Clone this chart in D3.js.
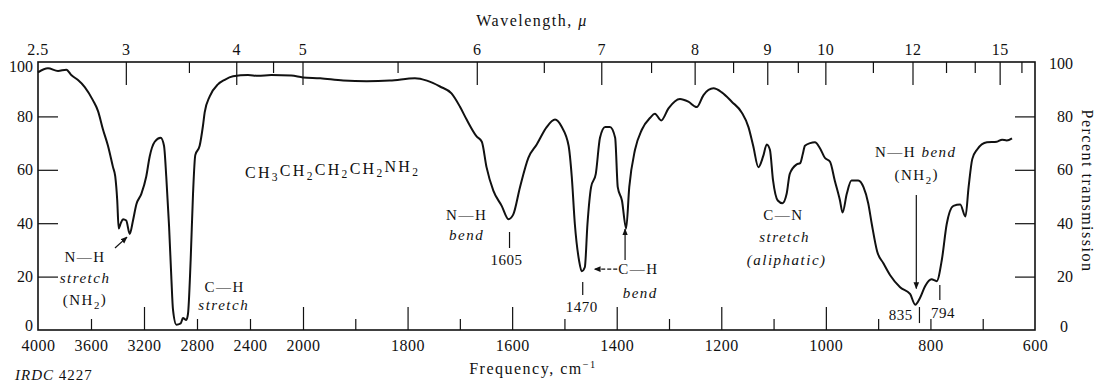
<!DOCTYPE html>
<html><head><meta charset="utf-8">
<script src="https://cdn.jsdelivr.net/npm/d3@7"></script>
<style>
body{margin:0;background:#fff}
svg{display:block}
text{font-family:"Liberation Serif","Times New Roman",serif;fill:#111}
</style>
</head><body><svg id="c" width="1099" height="383"></svg>
<script>
// ---- data ----
const wavenumber = [4000,3925,3849,3786,3749,3698,3647,3585,3547,3509,3472,3434,3417,3402,3391,3375,3358,3334,3308,3283,3258,3220,3183,3157,3119,3074,3049,3032,3011,2994,2981,2956,2923,2906,2881,2868,2848,2830,2813,2780,2755,2742,2704,2642,2591,2528,2415,2340,2239,2088,2000,1967,1923,1878,1834,1786,1763,1738,1716,1700,1687,1668,1658,1649,1636,1620,1607,1598,1585,1569,1553,1534,1518,1505,1492,1486,1480,1472,1467,1461,1456,1449,1440,1432,1422,1413,1403,1398,1390,1382,1376,1365,1352,1336,1327,1315,1301,1279,1263,1247,1234,1215,1199,1180,1161,1148,1139,1129,1120,1113,1107,1101,1092,1083,1075,1069,1056,1049,1044,1040,1030,1021,1011,1002,992,983,973,968,960,951,938,928,919,912,902,890,877,858,839,829,820,810,798,788,778,769,756,743,733,727,720,711,692,673,663,654,644];
const transmission = [96.5,98,97,97.5,95.5,93.6,91,86,82,75,69,61,57.5,48.5,38,40,41.5,41,36,41,47,51,57.5,65,70.5,72,69,57.5,39,20,7.5,2,2.5,4.5,3.7,6,26,51,65.5,69,76.5,81.5,87.5,92,93.7,95,95.5,95.2,95.5,95.3,94.6,94.3,93.4,93.2,93.4,94.3,93.4,91.2,88.6,83.7,78.8,72.5,70.5,61,52.2,46.5,41.5,43.2,53.5,64.5,69.5,76,78.8,76,69,57.5,39.5,26,22,23.5,39.5,53.5,58.5,72,76,76,72,53.5,48.5,38,53.5,67.5,75,79.5,81,78.5,83,86.5,85.5,83.5,88,90.5,89,85.5,81.5,76,69,61,65,69.5,67.5,56,48.5,47.5,51,58.5,62,62.5,66,69,70,70.3,68,64.5,63,56,48.5,44,51,56,56,53.5,47.5,39.5,29.5,25,20.5,16,13.5,9.5,12,16.5,19,18.3,26.5,39.5,46.5,47,42.5,53.5,64,67.5,70.3,70.5,71.3,71,71.8];
const freqLabels = [4000,3600,3200,2800,2400,2000,1800,1600,1400,1200,1000,800,600];
const freqMajorTicks = [3200,2000,1800,1600,1400,1200,1000];
const freqMinorTicks = [3600,2800,2400,1900,1700,1500,1300,1100,900,800,700];
const wlLabels = [2.5,3,4,5,6,7,8,9,10,12,15];
const wlMajorTicks = [3,4,5,6,7,8,9,10,12,15];
const wlMinorTicks = [3.5,4.5,5.5,6.5,7.5,8.5,9.5,11,13,14,16];
const pctTicks = [0,20,40,60,80,100];

// ---- scales ----
const svg = d3.select("#c");
const x = d3.scaleLinear().domain([4000,2000,600]).range([38,303,1035]);
const y = d3.scaleLinear().domain([0,100]).range([330,63]);
const X0 = x(4000), X1 = x(600), Y0 = y(0), Y1 = y(100) - 1;

// arrow marker
const defs = svg.append("defs");
defs.append("marker").attr("id","ah").attr("viewBox","0 0 10 10").attr("refX",9).attr("refY",5)
  .attr("markerWidth",7).attr("markerHeight",7).attr("orient","auto-start-reverse").attr("markerUnits","userSpaceOnUse")
  .append("path").attr("d","M0,1 L10,5 L0,9 Z").attr("fill","#111");

// ---- frame ----
svg.append("rect").attr("x",X0).attr("y",Y1).attr("width",X1-X0).attr("height",Y0-Y1)
  .attr("fill","none").attr("stroke","#111").attr("stroke-width",1.6);

function cleanAxis(g){ g.select(".domain").remove(); g.selectAll("line").attr("stroke","#111").attr("stroke-width",1.2); }

// bottom axis (ticks inside)
const gB = svg.append("g").attr("transform",`translate(0,${Y0})`);
gB.append("g").call(d3.axisBottom(x).tickValues(freqMajorTicks).tickSize(-23).tickFormat("")).call(cleanAxis);
gB.append("g").call(d3.axisBottom(x).tickValues(freqMinorTicks).tickSize(-11).tickFormat("")).call(cleanAxis);
gB.append("g").call(d3.axisBottom(x).tickValues(freqLabels).tickSize(0).tickPadding(10).tickFormat(d3.format("d"))).call(cleanAxis)
  .selectAll("text").style("font-size","16px").style("font-family","Liberation Serif, serif").attr("fill","#111").style("letter-spacing","0.5px");

// top axis (wavelength, via wavenumber scale)
const gT = svg.append("g");
gT.selectAll("line.maj").data(wlMajorTicks).join("line").attr("class","maj")
  .attr("x1",d=>x(1e4/d)).attr("x2",d=>x(1e4/d)).attr("y1",Y1).attr("y2",Y1+23).attr("stroke","#111").attr("stroke-width",1.2);
gT.selectAll("line.min").data(wlMinorTicks).join("line").attr("class","min")
  .attr("x1",d=>x(1e4/d)).attr("x2",d=>x(1e4/d)).attr("y1",Y1).attr("y2",Y1+11).attr("stroke","#111").attr("stroke-width",1.2);
gT.selectAll("text").data(wlLabels).join("text")
  .attr("x",d=>x(1e4/d)).attr("y",Y1-12).attr("dy","0.32em").attr("text-anchor","middle")
  .style("font-size","16px").style("letter-spacing","0.5px").text(d=>d);

// left axis
const gL = svg.append("g").attr("transform",`translate(${X0},0)`);
gL.call(d3.axisLeft(y).tickValues(pctTicks).tickSize(-20).tickPadding(5)).call(cleanAxis);
gL.selectAll(".tick").filter(d=>d===0||d===100).select("line").remove();
gL.selectAll("text").style("font-size","16px").style("font-family","Liberation Serif, serif").attr("fill","#111");
gL.selectAll(".tick").filter(d=>d===0).select("text").attr("dy","0.05em");
gL.selectAll(".tick").filter(d=>d===100).select("text").attr("dy","0.5em");

// right axis
const gR = svg.append("g").attr("transform",`translate(${X1},0)`);
gR.call(d3.axisRight(y).tickValues(pctTicks).tickSize(-20).tickPadding(10)).call(cleanAxis);
gR.selectAll(".tick").filter(d=>d===0||d===100).select("line").remove();
gR.selectAll("text").attr("x",38).attr("text-anchor","end").style("font-size","16px").style("font-family","Liberation Serif, serif").attr("fill","#111");
gR.selectAll(".tick").filter(d=>d===0).select("text").attr("dy","0.1em").attr("x",33);

// ---- spectrum ----
const pts = wavenumber.map((w,i)=>[w,transmission[i]]);
svg.append("path").datum(pts)
  .attr("d", d3.line().x(d=>x(d[0])).y(d=>y(d[1])).curve(d3.curveMonotoneX))
  .attr("fill","none").attr("stroke","#111").attr("stroke-width",2).attr("stroke-linejoin","round");

// ---- text helpers ----
function rich(px, py, parts, o={}){
  const t = svg.append("text").attr("x",px).attr("y",py).attr("dy","0.35em")
    .attr("text-anchor",o.anchor||"middle").style("font-size",(o.size||15)+"px")
    .style("letter-spacing",(o.ls==null?1.5:o.ls)+"px");
  parts.forEach(p=>{
    const s = t.append("tspan").text(p.t);
    if(p.i) s.style("font-style","italic");
    if(p.sub){ s.style("font-size","72%").attr("dy","0.3em"); }
    if(p.sup){ s.style("font-size","65%").attr("dy","-0.55em"); }
    if(p.back) s.attr("dy",p.back);
  });
  return t;
}
function line(x1,y1,x2,y2,o={}){
  const l = svg.append("line").attr("x1",x1).attr("y1",y1).attr("x2",x2).attr("y2",y2)
    .attr("stroke","#111").attr("stroke-width",o.w||1.2);
  if(o.arrow) l.attr("marker-end","url(#ah)");
  if(o.dash) l.attr("stroke-dasharray",o.dash);
  return l;
}
const P = (w,t)=>[x(w),y(t)];

// axis titles
rich(532, 20, [{t:"Wavelength, "},{t:"μ",i:1}], {size:16});
rich(533, 368, [{t:"Frequency, cm"},{t:"−1",sup:1}], {size:16});
rich(15, 375, [{t:"IRDC",i:1},{t:" 4227"}], {size:15, anchor:"start", ls:1});
svg.append("text").attr("transform","translate(1088,191) rotate(90)").attr("text-anchor","middle").attr("dy","0.35em")
  .style("font-size","16px").style("letter-spacing","1.5px").text("Percent transmission");

// annotations: N–H stretch
rich(...P(3645,27.3), [{t:"N—H"}]);
rich(...P(3645,19.5), [{t:"stretch",i:1}]);
rich(...P(3645,11.2), [{t:"(NH"},{t:"2",sub:1},{t:")",back:"-0.3em"}]);
line(...P(3419,30.7), ...P(3328,34.8), {arrow:1});
// C–H stretch
rich(...P(2591,16.1), [{t:"C—H"}]);
rich(...P(2598,9.4), [{t:"stretch",i:1}]);
// formula
rich(...P(2438,59.2), [{t:"CH"},{t:"3",sub:1},{t:"CH",back:"-0.3em"},{t:"2",sub:1},{t:"CH",back:"-0.3em"},{t:"2",sub:1},{t:"CH",back:"-0.3em"},{t:"2",sub:1},{t:"NH",back:"-0.3em"},{t:"2",sub:1}], {anchor:"start", size:16, ls:2.3});
// N–H bend 1605
rich(...P(1687,43), [{t:"N—H"}]);
rich(...P(1687,35.6), [{t:"bend",i:1}]);
line(...P(1605,36.7), ...P(1605,30.7));
rich(...P(1611,26.2), [{t:"1605"}], {ls:0.5});
// 1470 and C–H bend
line(...P(1465,18), ...P(1465,13.1));
rich(...P(1467,8.6), [{t:"1470"}], {ls:0.5});
line(...P(1399,22.8), ...P(1443,22.8), {arrow:1, dash:"4,2"});
rich(...P(1397,22.8), [{t:"C—H"}], {anchor:"start"});
rich(...P(1355,13.9), [{t:"bend",i:1}]);
line(...P(1384,26.2), ...P(1384,37.8), {arrow:1});
// C–N stretch
rich(...P(1081,43), [{t:"C—N"}]);
rich(...P(1079,34.8), [{t:"stretch",i:1}]);
rich(...P(1075,26.2), [{t:"(aliphatic)",i:1}]);
// N–H bend (NH2)
rich(...P(828,66.7), [{t:"N—H "},{t:"bend",i:1}]);
rich(...P(826,58), [{t:"(NH"},{t:"2",sub:1},{t:")",back:"-0.3em"}]);
line(...P(827,50.6), ...P(827,15.5), {arrow:1});
line(...P(821,8.6), ...P(821,2.6));
rich(...P(834,5.6), [{t:"835"}], {anchor:"end", ls:0.5});
line(...P(782,16.9), ...P(782,11.2));
rich(...P(776,6.4), [{t:"794"}], {ls:0.5});
</script>
</body></html>
